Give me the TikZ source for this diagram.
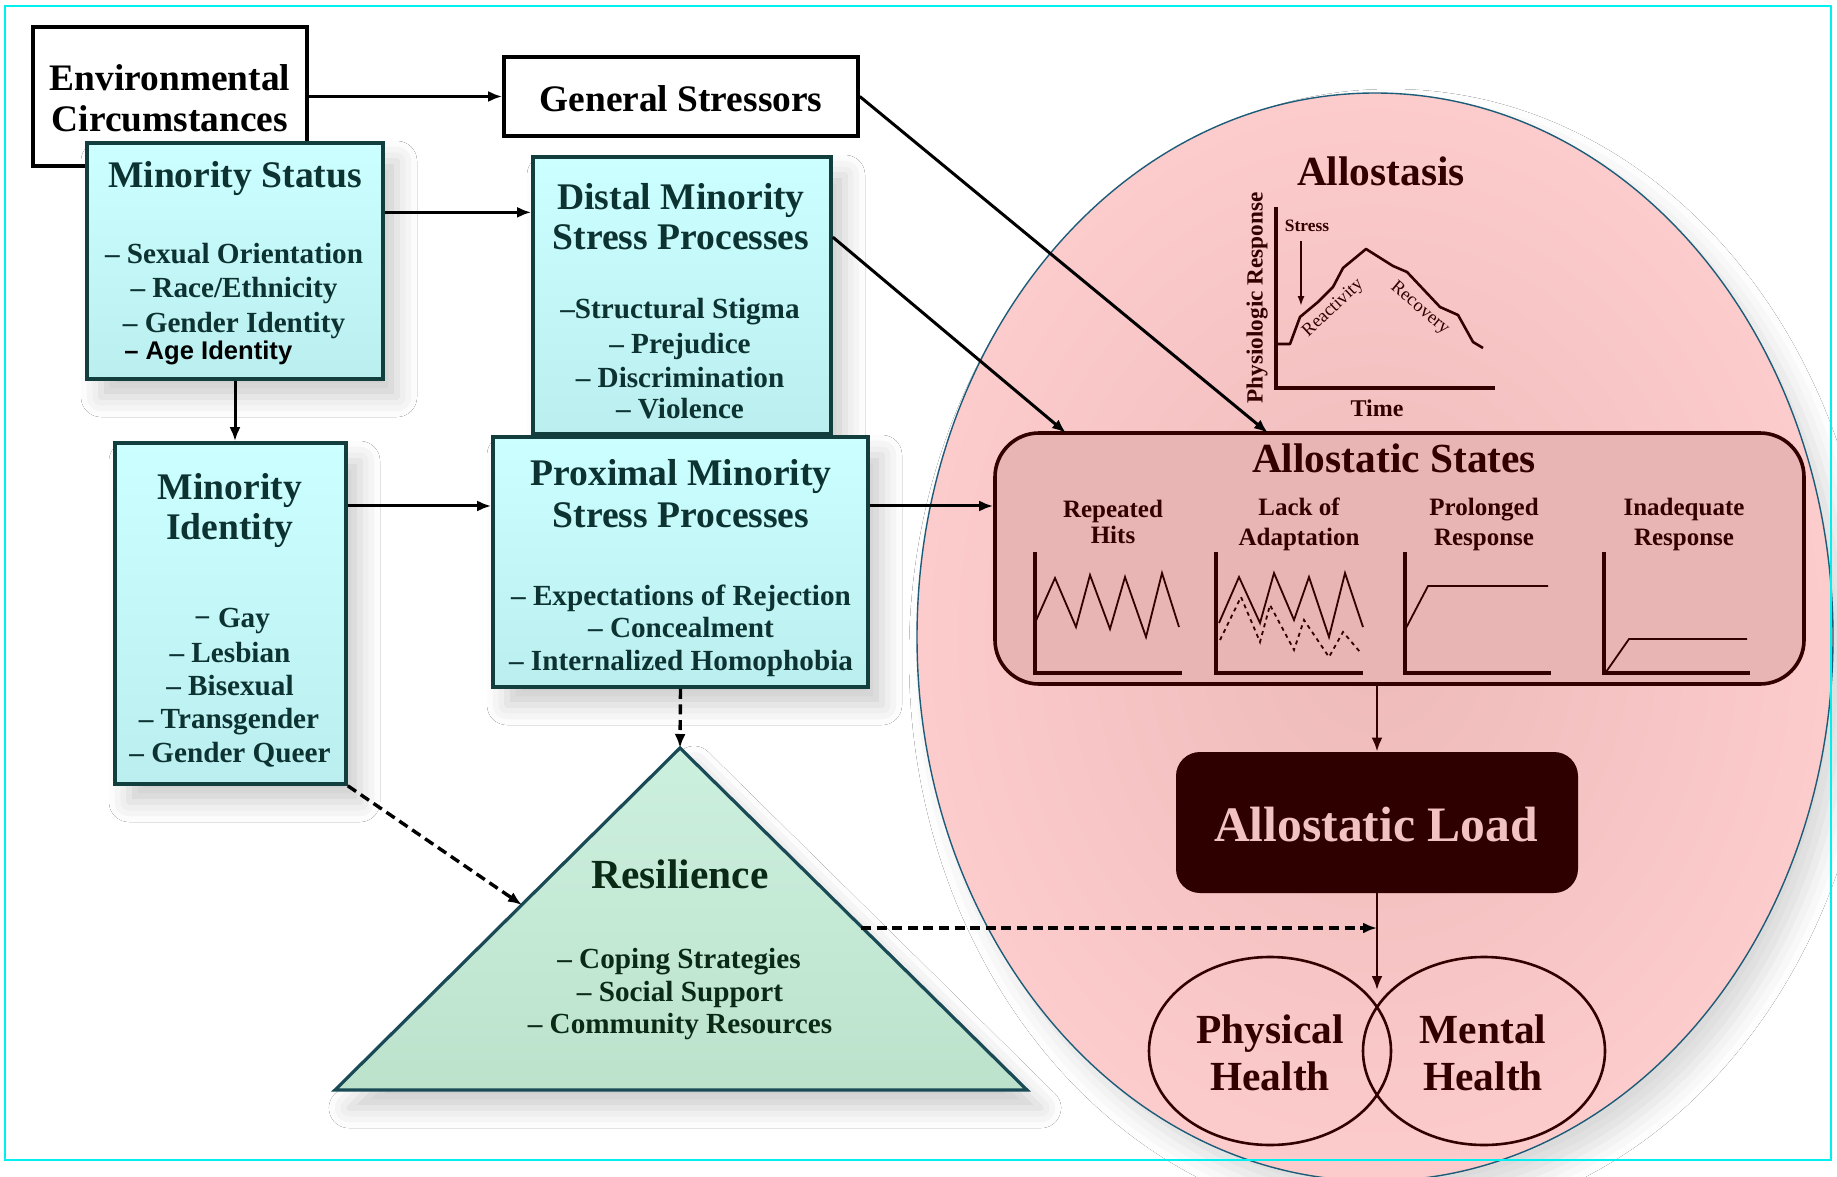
\documentclass[tikz,border=0pt]{standalone}
\usepackage{fontspec}
\setmainfont{Liberation Serif}
\newfontfamily\sansbold{Liberation Sans}
\usetikzlibrary{arrows.meta,shadows.blur,fit,shapes.geometric,calc}
\definecolor{framecyan}{HTML}{00F0F0}
\definecolor{cyantop}{HTML}{CCFFFF}
\definecolor{cyanbot}{HTML}{BBEEEE}
\definecolor{cyanedge}{HTML}{123E3E}
\definecolor{boxtext}{HTML}{0D3232}
\definecolor{greentop}{HTML}{CCF0DE}
\definecolor{greenbot}{HTML}{BCE2CC}
\definecolor{greenedge}{HTML}{1A4A55}
\definecolor{restext}{HTML}{0A2A16}
\definecolor{pinkout}{HTML}{FCCBCB}
\definecolor{pinkin}{HTML}{EEBABA}
\definecolor{pinkedge}{HTML}{1D5C78}
\definecolor{statesfill}{HTML}{E8B4B4}
\definecolor{maroon}{HTML}{330000}
\definecolor{loadfill}{HTML}{2E0000}
\definecolor{loadtext}{HTML}{F2C2C2}
\begin{document}
\begin{tikzpicture}[x=0.5pt,y=-0.5pt,
  softshadow/.style={blur shadow={shadow xshift=7pt,shadow yshift=-9pt,shadow blur radius=10pt,shadow opacity=20}},
  plainbox/.style={draw=black,line width=1.8pt,fill=white,inner sep=0pt},
  cyanbox/.style={draw=cyanedge,line width=1.8pt,top color=cyantop,bottom color=cyanbot,inner sep=0pt,softshadow},
  ptx/.style={inner sep=0pt,anchor=mid,yshift=-4pt,text=black,font=\fontsize{18.7}{22}\selectfont\bfseries},
  ttl/.style={inner sep=0pt,anchor=mid,yshift=-4pt,text=boxtext,font=\fontsize{18.8}{22}\selectfont\bfseries},
  itm/.style={inner sep=0pt,anchor=mid,yshift=-3pt,text=boxtext,font=\fontsize{14.6}{17}\selectfont\bfseries},
  rttl/.style={inner sep=0pt,anchor=mid,yshift=-4.5pt,text=restext,font=\fontsize{20.7}{24}\selectfont\bfseries},
  ritm/.style={inner sep=0pt,anchor=mid,yshift=-3pt,text=restext,font=\fontsize{14.6}{17}\selectfont\bfseries},
  mttl/.style={inner sep=0pt,anchor=mid,yshift=-4.5pt,text=maroon,font=\fontsize{20.7}{24}\selectfont\bfseries},
  mlbl/.style={inner sep=0pt,anchor=mid,yshift=-2pt,text=maroon,font=\fontsize{12.5}{15}\selectfont\bfseries},
  arr/.style={-{Latex[length=7pt,width=5.5pt]},line width=1.5pt},
  darr/.style={arr,dash pattern=on 5pt off 2.8pt,line width=1.7pt},
  gaxis/.style={draw=maroon,line width=2pt},
  gline/.style={draw=maroon,line width=0.9pt},
  healthc/.style={draw=maroon,line width=1.3pt,ellipse,minimum width=121pt,minimum height=94pt,inner sep=0pt}
]
\useasboundingbox (0,0) rectangle (1837,1177);
\fill[white] (0,0) rectangle (1837,1177);

% allostasis ellipse
\path[draw=pinkedge,line width=0.7pt,inner color=pinkin,outer color=pinkout,
  blur shadow={shadow xshift=8pt,shadow yshift=-10pt,shadow blur radius=12pt,shadow opacity=15}]
  (1375,637) ellipse [x radius=458, y radius=544];

% left boxes
\node[plainbox,fit={(33,27)(307,166)}] (env) {};
\node[ptx] (envA) at (170,78) {Environmental};
\node[ptx] (envB) at (170,119) {Circumstances};

\node[plainbox,fit={(504,57)(858,136)}] (gs) {};
\node[ptx] (gsT) at (681,99) {General Stressors};

\node[cyanbox,fit={(87,143)(383,379)}] (ms) {};
\node[ttl] (msT) at (235,175) {Minority Status};
\node[itm] (ms1) at (234,253) {– Sexual Orientation};
\node[itm] (ms2) at (234,287) {– Race/Ethnicity};
\node[itm] (ms3) at (234,322) {– Gender Identity};
\node[inner sep=0pt,anchor=mid west,yshift=-2.5pt,text=black,font=\fontsize{12.8}{15}\selectfont\sansbold\bfseries] (ms4) at (124,350) {– Age Identity};

\node[cyanbox,fit={(533,157)(831,434)}] (dist) {};
\node[ttl] (distA) at (681,197) {Distal Minority};
\node[ttl] (distB) at (681,237) {Stress Processes};
\node[itm] (dist1) at (680,308) {–Structural Stigma};
\node[itm] (dist2) at (680,343) {– Prejudice};
\node[itm] (dist3) at (680,377) {– Discrimination};
\node[itm] (dist4) at (680,408) {– Violence};

\node[cyanbox,fit={(115,443)(346,784)}] (mi) {};
\node[ttl] (miA) at (230,487) {Minority};
\node[ttl] (miB) at (230,527) {Identity};
\node[itm] (mi1) at (232,617) {− Gay};
\node[itm] (mi2) at (230,652) {– Lesbian};
\node[itm] (mi3) at (230,685) {– Bisexual};
\node[itm] (mi4) at (229,718) {– Transgender};
\node[itm] (mi5) at (230,752) {– Gender Queer};

\node[cyanbox,fit={(493,437)(868,687)}] (prox) {};
\node[ttl] (proxA) at (681,473) {Proximal Minority};
\node[ttl] (proxB) at (681,515) {Stress Processes};
\node[itm] (prox1) at (681,595) {– Expectations of Rejection};
\node[itm] (prox2) at (681,627) {– Concealment};
\node[itm] (prox3) at (681,660) {– Internalized Homophobia};

% resilience triangle
\coordinate (apex) at (680,748);
\coordinate (bl) at (335,1090);
\coordinate (br) at (1027,1090);
\path[draw=greenedge,line width=1.6pt,top color=greentop,bottom color=greenbot,line join=miter,softshadow]
  (apex) -- (br) -- (bl) -- cycle;
\node[rttl] (resT) at (680,875) {Resilience};
\node[ritm] (res1) at (679,958) {– Coping Strategies};
\node[ritm] (res2) at (680,991) {– Social Support};
\node[ritm] (res3) at (680,1023) {– Community Resources};

% allostasis graph
\node[mttl] (alloT) at (1381,172) {Allostasis};
\draw[gaxis,line width=1.8pt] (1276,207) -- (1276,388) -- (1495,388);
\draw[draw=maroon,line width=1.3pt,line join=round] (1276,344) -- (1290,344) -- (1300,317) -- (1318,302) -- (1333,287) -- (1343,268) -- (1366,249) -- (1393,266) -- (1407,272) -- (1440,307) -- (1458,315) -- (1473,342) -- (1483,348);
\node[inner sep=0pt,anchor=mid,yshift=-1.3pt,text=maroon,font=\fontsize{8.7}{10}\selectfont\bfseries] (stress) at (1307,224) {Stress};
\coordinate (stressTop) at (1301,241);
\coordinate (stressTip) at (1301,306);
\draw[maroon,line width=0.9pt,-{Latex[length=5pt,width=3.5pt]}] (stressTop) -- (stressTip);
\node[inner sep=0pt,anchor=mid,text=maroon,font=\fontsize{9.2}{11}\selectfont,rotate=43] (react) at (1333,308) {Reactivity};
\node[inner sep=0pt,anchor=mid,text=maroon,font=\fontsize{9.2}{11}\selectfont,rotate=-40] (recov) at (1420,308) {Recovery};
\node[inner sep=0pt,anchor=mid,text=maroon,font=\fontsize{11.6}{14}\selectfont\bfseries,rotate=90] (physR) at (1258,298) {Physiologic Response};
\node[inner sep=0pt,anchor=mid,yshift=-2pt,text=maroon,font=\fontsize{12}{14}\selectfont\bfseries] (timeL) at (1377,408) {Time};

% allostatic states
\node[draw=maroon,line width=1.8pt,fill=statesfill,rounded corners=22pt,inner sep=0pt,fit={(995,433)(1804,684)}] (states) {};
\node[mttl] (statesT) at (1394,459) {Allostatic States};
\node[mlbl] (s1a) at (1113,509) {Repeated};
\node[mlbl] (s1b) at (1113,535) {Hits};
\node[mlbl] (s2a) at (1299,507) {Lack of};
\node[mlbl] (s2b) at (1299,537) {Adaptation};
\node[mlbl] (s3a) at (1484,507) {Prolonged};
\node[mlbl] (s3b) at (1484,537) {Response};
\node[mlbl] (s4a) at (1684,507) {Inadequate};
\node[mlbl] (s4b) at (1684,537) {Response};

\draw[gaxis] (1035,552) -- (1035,673) -- (1182,673);
\draw[gline] (1035,623) -- (1055,578) -- (1076,627) -- (1090,575) -- (1110,629) -- (1125,577) -- (1146,637) -- (1162,573) -- (1179,627);
\draw[gaxis] (1216,552) -- (1216,673) -- (1363,673);
\draw[gline] (1219,623) -- (1239,577) -- (1260,623) -- (1274,573) -- (1294,620) -- (1309,577) -- (1329,637) -- (1345,573) -- (1363,627);
\draw[gline,dash pattern=on 2pt off 2pt] (1220,640) -- (1241,597) -- (1260,642) -- (1270,605) -- (1294,650) -- (1304,620) -- (1329,657) -- (1343,632) -- (1360,652);
\draw[gaxis] (1405,552) -- (1405,673) -- (1551,673);
\draw[gline] (1405,630) -- (1428,586) -- (1548,586);
\draw[gaxis] (1604,552) -- (1604,673) -- (1750,673);
\draw[gline] (1606,672) -- (1629,639) -- (1747,639);

% allostatic load
\node[fill=loadfill,rounded corners=12pt,inner sep=0pt,fit={(1176,752)(1578,893)}] (load) {};
\node[inner sep=0pt,anchor=mid,yshift=-6pt,text=loadtext,font=\fontsize{24.8}{28}\selectfont\bfseries] (loadT) at (1376,825) {Allostatic Load};

% health
\node[healthc] (phys) at (1270,1051) {};
\node[healthc] (ment) at (1484,1051) {};
\node[mttl] (physA) at (1270,1030) {Physical};
\node[mttl] (physB) at (1270,1077) {Health};
\node[mttl] (mentA) at (1483,1030) {Mental};
\node[mttl] (mentB) at (1483,1077) {Health};

% connectors
\coordinate (sA) at (1066,433);
\coordinate (sB) at (1268,433);
\coordinate (hx) at (1377,990);
\coordinate (hx2) at (1377,928);
\coordinate (resL) at (522,905);
\coordinate (resR) at (861,928);
\coordinate (msR) at ($(ms.north east)!0.297!(ms.south east)$);
\coordinate (miR) at ($(mi.north east)!0.188!(mi.south east)$);
\coordinate (distR) at ($(dist.north east)!0.292!(dist.south east)$);

\draw[arr] (env.east) -- (env.east -| gs.west);
\draw[arr] (msR) -- (msR -| dist.west);
\draw[arr] (ms.south) -- (ms.south |- mi.north);
\draw[arr] (miR) -- (miR -| prox.west);
\draw[arr] (miR -| prox.east) -- (miR -| states.west);
\draw[arr] (gs.east) -- (sB);
\draw[arr] (distR) -- (sA);
\draw[arr,draw=maroon,line width=1.3pt] (load.north |- states.south) -- (load.north);
\draw[arr,draw=maroon,line width=1.3pt] (load.south) -- (hx);
\draw[darr] (prox.south) -- (apex);
\draw[darr] (mi.south east) -- (resL);
\draw[darr] (resR) -- (hx2);

% frame
\draw[framecyan,line width=1.1pt] (5,6) rectangle (1831,1160);
\end{tikzpicture}
\end{document}
